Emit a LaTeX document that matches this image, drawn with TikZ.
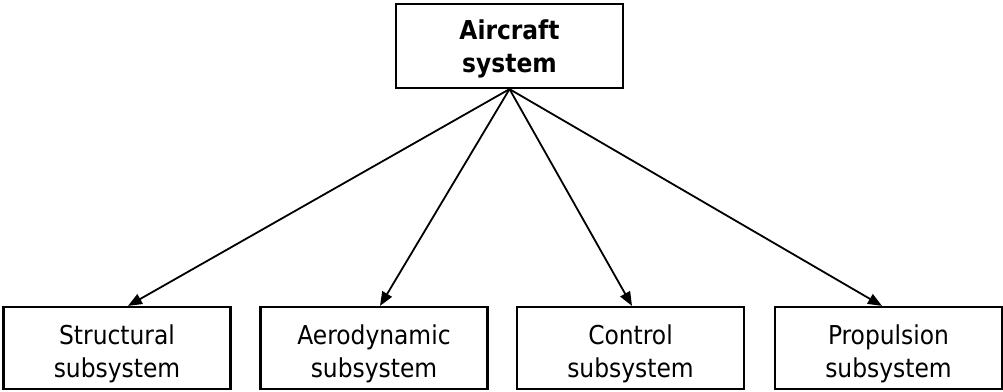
\documentclass[tikz,border=0pt]{standalone}
\usepackage{fontspec}
\setmainfont{DejaVu Sans Condensed}
\usetikzlibrary{arrows.meta}
\begin{document}
\begin{tikzpicture}[x=1pt,y=-1pt,
  box/.style={draw, line width=2.2pt, minimum width=227pt, minimum height=82pt,
    inner sep=0pt},
  caption/.style={align=center, font=\fontsize{26}{33}\selectfont, inner sep=0pt},
  link/.style={line width=1.8pt, -{Triangle[length=14pt,width=11pt]}}]
\useasboundingbox (0,0) rectangle (1003,391);
% root of the hierarchy
\node[box, minimum height=84pt,
      label={[caption, font=\fontsize{26}{33}\selectfont\bfseries, yshift=-2.6pt]center:Aircraft\\system}]
      (root) at (509.5,46) {};
% subsystems
\node[box, label={[caption, yshift=-5.7pt]center:Structural\\subsystem}]  (s1) at (117,348)   {};
\node[box, label={[caption, yshift=-5.7pt]center:Aerodynamic\\subsystem}] (s2) at (374,348)   {};
\node[box, label={[caption, yshift=-5.7pt]center:Control\\subsystem}]     (s3) at (630.5,348) {};
\node[box, label={[caption, yshift=-5.7pt]center:Propulsion\\subsystem}]  (s4) at (888.5,348) {};
% decomposition links
\draw[link] (root.south) -- ([xshift=11pt]s1.north);
\draw[link] (root.south) -- ([xshift=6pt]s2.north);
\draw[link] (root.south) -- ([xshift=1.5pt]s3.north);
\draw[link] (root.south) -- ([xshift=-6.5pt]s4.north);
\end{tikzpicture}
\end{document}
